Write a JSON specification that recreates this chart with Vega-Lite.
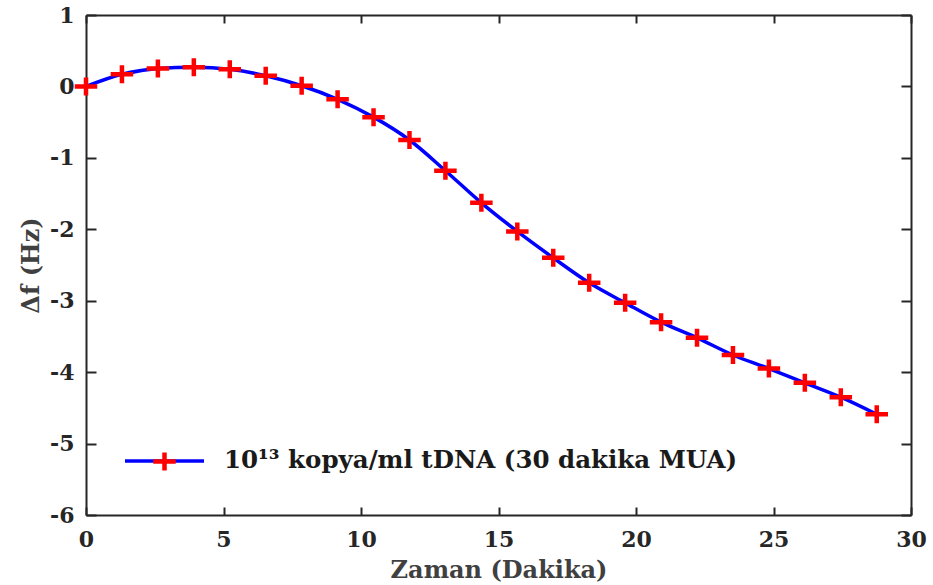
{
  "$schema": "https://vega.github.io/schema/vega-lite/v6.json",
  "width": 825,
  "height": 500,
  "autosize": {"type": "none"},
  "padding": {"left": 86, "top": 15, "right": 22, "bottom": 70},
  "background": "white",
  "config": {
    "view": {"stroke": null},
    "font": "DejaVu Serif",
    "axis": {
      "grid": false,
      "labelFlush": false,
      "labelOverlap": false,
      "domainColor": "#262626",
      "domainWidth": 2,
      "tickColor": "#262626",
      "tickWidth": 2,
      "labelFont": "DejaVu Serif",
      "labelFontWeight": "bold",
      "labelFontSize": 22,
      "labelColor": "#262626",
      "titleFont": "DejaVu Serif",
      "titleFontWeight": "bold",
      "titleFontSize": 24,
      "titleColor": "#404040"
    }
  },
  "data": {
    "values": [
      {"t": 0.000, "df": 0.00, "series": "10¹³ kopya/ml tDNA (30 dakika MUA)", "marker": "+"},
      {"t": 1.307, "df": 0.17, "series": "10¹³ kopya/ml tDNA (30 dakika MUA)", "marker": "+"},
      {"t": 2.614, "df": 0.25, "series": "10¹³ kopya/ml tDNA (30 dakika MUA)", "marker": "+"},
      {"t": 3.921, "df": 0.27, "series": "10¹³ kopya/ml tDNA (30 dakika MUA)", "marker": "+"},
      {"t": 5.228, "df": 0.24, "series": "10¹³ kopya/ml tDNA (30 dakika MUA)", "marker": "+"},
      {"t": 6.535, "df": 0.15, "series": "10¹³ kopya/ml tDNA (30 dakika MUA)", "marker": "+"},
      {"t": 7.842, "df": 0.01, "series": "10¹³ kopya/ml tDNA (30 dakika MUA)", "marker": "+"},
      {"t": 9.149, "df": -0.18, "series": "10¹³ kopya/ml tDNA (30 dakika MUA)", "marker": "+"},
      {"t": 10.456, "df": -0.43, "series": "10¹³ kopya/ml tDNA (30 dakika MUA)", "marker": "+"},
      {"t": 11.763, "df": -0.75, "series": "10¹³ kopya/ml tDNA (30 dakika MUA)", "marker": "+"},
      {"t": 13.070, "df": -1.18, "series": "10¹³ kopya/ml tDNA (30 dakika MUA)", "marker": "+"},
      {"t": 14.377, "df": -1.63, "series": "10¹³ kopya/ml tDNA (30 dakika MUA)", "marker": "+"},
      {"t": 15.684, "df": -2.03, "series": "10¹³ kopya/ml tDNA (30 dakika MUA)", "marker": "+"},
      {"t": 16.991, "df": -2.40, "series": "10¹³ kopya/ml tDNA (30 dakika MUA)", "marker": "+"},
      {"t": 18.298, "df": -2.75, "series": "10¹³ kopya/ml tDNA (30 dakika MUA)", "marker": "+"},
      {"t": 19.605, "df": -3.03, "series": "10¹³ kopya/ml tDNA (30 dakika MUA)", "marker": "+"},
      {"t": 20.912, "df": -3.30, "series": "10¹³ kopya/ml tDNA (30 dakika MUA)", "marker": "+"},
      {"t": 22.219, "df": -3.52, "series": "10¹³ kopya/ml tDNA (30 dakika MUA)", "marker": "+"},
      {"t": 23.526, "df": -3.76, "series": "10¹³ kopya/ml tDNA (30 dakika MUA)", "marker": "+"},
      {"t": 24.833, "df": -3.95, "series": "10¹³ kopya/ml tDNA (30 dakika MUA)", "marker": "+"},
      {"t": 26.140, "df": -4.15, "series": "10¹³ kopya/ml tDNA (30 dakika MUA)", "marker": "+"},
      {"t": 27.447, "df": -4.35, "series": "10¹³ kopya/ml tDNA (30 dakika MUA)", "marker": "+"},
      {"t": 28.754, "df": -4.59, "series": "10¹³ kopya/ml tDNA (30 dakika MUA)", "marker": "+"}
    ]
  },
  "layer": [
    {
      "mark": {"type": "line", "interpolate": "monotone", "strokeWidth": 3.5},
      "encoding": {
        "x": {
          "field": "t", "type": "quantitative",
          "scale": {"domain": [0, 30], "nice": false, "zero": false},
          "axis": {"orient": "bottom", "values": [0, 5, 10, 15, 20, 25, 30], "tickSize": -8, "labelPadding": 22, "title": "Zaman (Dakika)", "titlePadding": 8}
        },
        "y": {
          "field": "df", "type": "quantitative",
          "scale": {"domain": [-6, 1], "nice": false, "zero": false},
          "axis": {"orient": "left", "values": [-6, -5, -4, -3, -2, -1, 0, 1], "tickSize": -10, "labelPadding": 22, "labelExpr": "replace(datum.label, '−', '-')", "title": "Δf (Hz)", "titlePadding": 6}
        },
        "stroke": {
          "field": "series", "type": "nominal",
          "scale": {"range": ["#0000FF"]},
          "legend": {
            "orient": "none", "legendX": 37, "legendY": 404.5, "title": null, "padding": 0,
            "symbolType": "stroke", "symbolSize": 6241, "symbolStrokeWidth": 3.5,
            "labelFont": "DejaVu Serif", "labelFontWeight": "bold", "labelFontSize": 24.5,
            "labelColor": "#1a1a1a", "labelOffset": 18, "labelLimit": 800
          }
        }
      }
    },
    {
      "mark": {"type": "point", "filled": false, "stroke": "#FF0000", "strokeWidth": 4.5, "size": 324, "opacity": 1},
      "encoding": {
        "x": {
          "field": "t", "type": "quantitative",
          "axis": {"orient": "top", "values": [0, 5, 10, 15, 20, 25, 30], "tickSize": -8, "labels": false, "title": null}
        },
        "y": {
          "field": "df", "type": "quantitative",
          "axis": {"orient": "right", "values": [-6, -5, -4, -3, -2, -1, 0, 1], "tickSize": -10, "labels": false, "title": null}
        },
        "shape": {
          "field": "marker", "type": "nominal",
          "scale": {"range": ["M-1.25,0H1.25M0,-1V1"]},
          "legend": {
            "orient": "none", "legendX": 67, "legendY": 435, "title": null, "padding": 0,
            "symbolSize": 324, "symbolStrokeWidth": 4.5, "symbolStrokeColor": "#FF0000", "symbolFillColor": "transparent",
            "labelExpr": "''"
          }
        }
      }
    }
  ]
}
